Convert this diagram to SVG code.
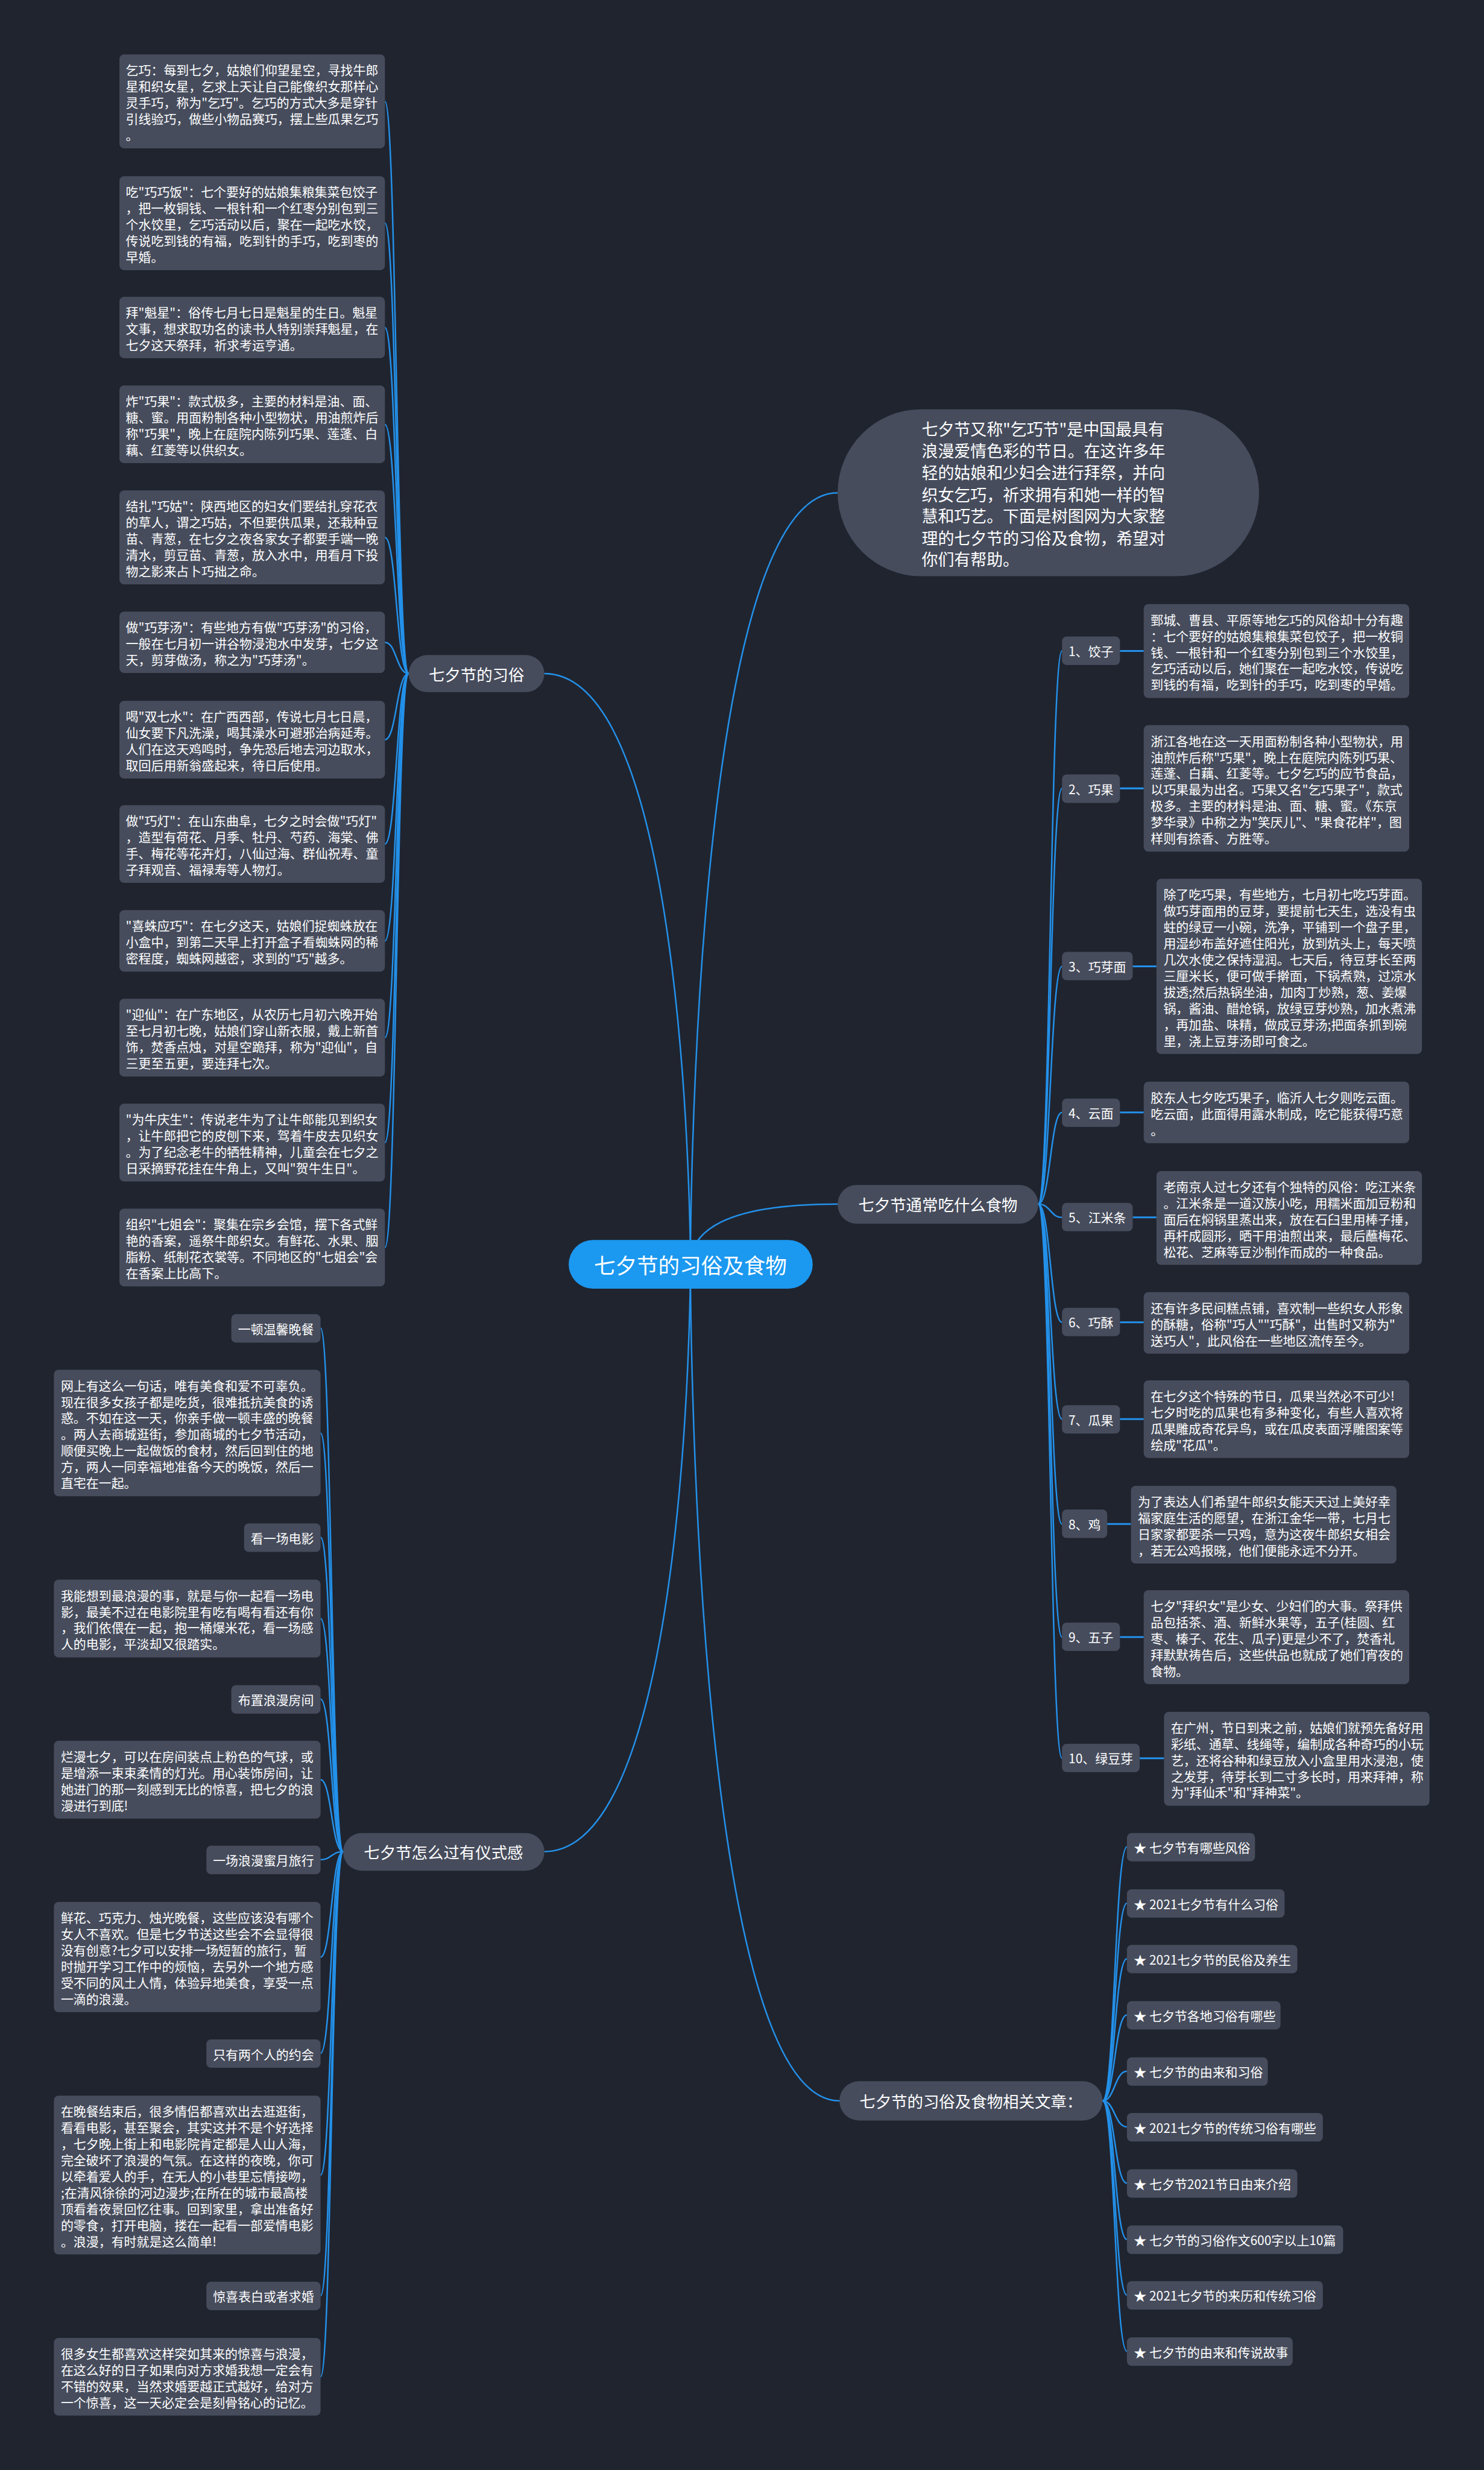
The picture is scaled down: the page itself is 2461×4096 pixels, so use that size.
<svg xmlns="http://www.w3.org/2000/svg" width="2461" height="4096" viewBox="0 0 2461 4096">
<style>
text{font-family:"Noto Sans CJK SC","Noto Sans",sans-serif;fill:#ffffff;dominant-baseline:central}
.b{font-size:21.8px}
.m{text-anchor:middle}
.br{font-size:27.5px}
.nd{fill:#464c5c}
.ln{fill:none;stroke:#2391ea;stroke-width:2.6}
.lk{fill:none;stroke:#2391ea;stroke-width:3.2}
</style>
<rect x="0" y="0" width="2461" height="4096" fill="#20242f"/>
<g transform="scale(0.961328)">
<g id="connectors">
<path class="ln" d="M939 1162 C1191 1162 1191 2181 1191 2181"/>
<path class="ln" d="M939 3194 C1191 3194 1191 2181 1191 2181"/>
<path class="ln" d="M1445 850 C1191 850 1191 2181 1191 2181"/>
<path class="ln" d="M1445 2077 C1220 2077 1191 2140 1191 2181"/>
<path class="ln" d="M1448 3624 C1191 3624 1191 2181 1191 2181"/>
<path class="ln" d="M705 1162 C684 1162 684 175 664 175"/>
<path class="ln" d="M705 1162 C684 1162 684 385 664 385"/>
<path class="ln" d="M705 1162 C684 1162 684 565 664 565"/>
<path class="ln" d="M705 1162 C684 1162 684 732 664 732"/>
<path class="ln" d="M705 1162 C684 1162 684 927 664 927"/>
<path class="ln" d="M705 1162 C684 1162 684 1108 664 1108"/>
<path class="ln" d="M705 1162 C684 1162 684 1276 664 1276"/>
<path class="ln" d="M705 1162 C684 1162 684 1456 664 1456"/>
<path class="ln" d="M705 1162 C684 1162 684 1623 664 1623"/>
<path class="ln" d="M705 1162 C684 1162 684 1790 664 1790"/>
<path class="ln" d="M705 1162 C684 1162 684 1971 664 1971"/>
<path class="ln" d="M705 1162 C684 1162 684 2152 664 2152"/>
<path class="ln" d="M592 3194 C572 3194 572 2291 553 2291"/>
<path class="ln" d="M592 3194 C572 3194 572 2472 553 2472"/>
<path class="ln" d="M592 3194 C572 3194 572 2652 553 2652"/>
<path class="ln" d="M592 3194 C572 3194 572 2792 553 2792"/>
<path class="ln" d="M592 3194 C572 3194 572 2931 553 2931"/>
<path class="ln" d="M592 3194 C572 3194 572 3070 553 3070"/>
<path class="ln" d="M592 3194 C572 3194 572 3208 553 3208"/>
<path class="ln" d="M592 3194 C572 3194 572 3376 553 3376"/>
<path class="ln" d="M592 3194 C572 3194 572 3542 553 3542"/>
<path class="ln" d="M592 3194 C572 3194 572 3752 553 3752"/>
<path class="ln" d="M592 3194 C572 3194 572 3960 553 3960"/>
<path class="ln" d="M592 3194 C572 3194 572 4100 553 4100"/>
<path class="ln" d="M1791 2077 C1812 2077 1812 1123 1832 1123"/>
<path class="ln" d="M1791 2077 C1812 2077 1812 1360 1832 1360"/>
<path class="ln" d="M1791 2077 C1812 2077 1812 1667 1832 1667"/>
<path class="ln" d="M1791 2077 C1812 2077 1812 1919 1832 1919"/>
<path class="ln" d="M1791 2077 C1812 2077 1812 2100 1832 2100"/>
<path class="ln" d="M1791 2077 C1812 2077 1812 2281 1832 2281"/>
<path class="ln" d="M1791 2077 C1812 2077 1812 2448 1832 2448"/>
<path class="ln" d="M1791 2077 C1812 2077 1812 2629 1832 2629"/>
<path class="ln" d="M1791 2077 C1812 2077 1812 2824 1832 2824"/>
<path class="ln" d="M1791 2077 C1812 2077 1812 3033 1832 3033"/>
<path class="lk" d="M1932 1123 H1973"/>
<path class="lk" d="M1932 1360 H1973"/>
<path class="lk" d="M1954 1667 H1995"/>
<path class="lk" d="M1932 1919 H1973"/>
<path class="lk" d="M1954 2100 H1995"/>
<path class="lk" d="M1932 2281 H1973"/>
<path class="lk" d="M1932 2448 H1973"/>
<path class="lk" d="M1910 2629 H1951"/>
<path class="lk" d="M1932 2824 H1973"/>
<path class="lk" d="M1966 3033 H2008"/>
<path class="ln" d="M1902 3624 C1923 3624 1923 3186 1944 3186"/>
<path class="ln" d="M1902 3624 C1923 3624 1923 3283 1944 3283"/>
<path class="ln" d="M1902 3624 C1923 3624 1923 3379 1944 3379"/>
<path class="ln" d="M1902 3624 C1923 3624 1923 3476 1944 3476"/>
<path class="ln" d="M1902 3624 C1923 3624 1923 3573 1944 3573"/>
<path class="ln" d="M1902 3624 C1923 3624 1923 3669 1944 3669"/>
<path class="ln" d="M1902 3624 C1923 3624 1923 3766 1944 3766"/>
<path class="ln" d="M1902 3624 C1923 3624 1923 3863 1944 3863"/>
<path class="ln" d="M1902 3624 C1923 3624 1923 3959 1944 3959"/>
<path class="ln" d="M1902 3624 C1923 3624 1923 4056 1944 4056"/>
</g>

<g id="center"><rect x="981" y="2139" width="421" height="84" rx="42" fill="#1b98f0"/><text class="m" x="1191" y="2181" style="font-size:37px">七夕节的习俗及食物</text></g>

<g id="intro"><rect class="nd" x="1445" y="706" width="727" height="288" rx="144"/>
<text style="font-size:28px" x="1590" y="739">七夕节又称"乞巧节"是中国最具有</text>
<text style="font-size:28px" x="1590" y="777">浪漫爱情色彩的节日。在这许多年</text>
<text style="font-size:28px" x="1590" y="814">轻的姑娘和少妇会进行拜祭，并向</text>
<text style="font-size:28px" x="1590" y="852">织女乞巧，祈求拥有和她一样的智</text>
<text style="font-size:28px" x="1590" y="889">慧和巧艺。下面是树图网为大家整</text>
<text style="font-size:28px" x="1590" y="927">理的七夕节的习俗及食物，希望对</text>
<text style="font-size:28px" x="1590" y="964">你们有帮助。</text></g>

<g id="branch-customs"><rect class="nd" x="705" y="1130" width="234" height="64" rx="32"/><text class="br m" x="822" y="1162">七夕节的习俗</text></g>
<g id="branch-food"><rect class="nd" x="1445" y="2044" width="346" height="67" rx="33"/><text class="br m" x="1618" y="2077">七夕节通常吃什么食物</text></g>
<g id="branch-ritual"><rect class="nd" x="592" y="3162" width="347" height="65" rx="32"/><text class="br m" x="765" y="3194">七夕节怎么过有仪式感</text></g>
<g id="branch-articles"><rect class="nd" x="1448" y="3590" width="454" height="68" rx="34"/><text class="br m" x="1675" y="3624">七夕节的习俗及食物相关文章：</text></g>

<g id="c1"><rect class="nd" x="206" y="94" width="458" height="162" rx="8"/>
<text class="b" x="217" y="120">乞巧：每到七夕，姑娘们仰望星空，寻找牛郎</text>
<text class="b" x="217" y="148">星和织女星，乞求上天让自己能像织女那样心</text>
<text class="b" x="217" y="176">灵手巧，称为"乞巧"。乞巧的方式大多是穿针</text>
<text class="b" x="217" y="204">引线验巧，做些小物品赛巧，摆上些瓜果乞巧</text>
<text class="b" x="217" y="232">。</text></g>
<g id="c2"><rect class="nd" x="206" y="304" width="458" height="162" rx="8"/>
<text class="b" x="217" y="330">吃"巧巧饭"：七个要好的姑娘集粮集菜包饺子</text>
<text class="b" x="217" y="358">，把一枚铜钱、一根针和一个红枣分别包到三</text>
<text class="b" x="217" y="386">个水饺里，乞巧活动以后，聚在一起吃水饺，</text>
<text class="b" x="217" y="414">传说吃到钱的有福，吃到针的手巧，吃到枣的</text>
<text class="b" x="217" y="442">早婚。</text></g>
<g id="c3"><rect class="nd" x="206" y="512" width="458" height="106" rx="8"/>
<text class="b" x="217" y="538">拜"魁星"：俗传七月七日是魁星的生日。魁星</text>
<text class="b" x="217" y="566">文事，想求取功名的读书人特别崇拜魁星，在</text>
<text class="b" x="217" y="594">七夕这天祭拜，祈求考运亨通。</text></g>
<g id="c4"><rect class="nd" x="206" y="665" width="458" height="134" rx="8"/>
<text class="b" x="217" y="691">炸"巧果"：款式极多，主要的材料是油、面、</text>
<text class="b" x="217" y="719">糖、蜜。用面粉制各种小型物状，用油煎炸后</text>
<text class="b" x="217" y="747">称"巧果"，晚上在庭院内陈列巧果、莲蓬、白</text>
<text class="b" x="217" y="775">藕、红菱等以供织女。</text></g>
<g id="c5"><rect class="nd" x="206" y="846" width="458" height="162" rx="8"/>
<text class="b" x="217" y="872">结扎"巧姑"：陕西地区的妇女们要结扎穿花衣</text>
<text class="b" x="217" y="900">的草人，谓之巧姑，不但要供瓜果，还栽种豆</text>
<text class="b" x="217" y="928">苗、青葱，在七夕之夜各家女子都要手端一晚</text>
<text class="b" x="217" y="956">清水，剪豆苗、青葱，放入水中，用看月下投</text>
<text class="b" x="217" y="984">物之影来占卜巧拙之命。</text></g>
<g id="c6"><rect class="nd" x="206" y="1055" width="458" height="106" rx="8"/>
<text class="b" x="217" y="1081">做"巧芽汤"：有些地方有做"巧芽汤"的习俗，</text>
<text class="b" x="217" y="1109">一般在七月初一讲谷物浸泡水中发芽，七夕这</text>
<text class="b" x="217" y="1137">天，剪芽做汤，称之为"巧芽汤"。</text></g>
<g id="c7"><rect class="nd" x="206" y="1209" width="458" height="134" rx="8"/>
<text class="b" x="217" y="1235">喝"双七水"：在广西西部，传说七月七日晨，</text>
<text class="b" x="217" y="1263">仙女要下凡洗澡，喝其澡水可避邪治病延寿。</text>
<text class="b" x="217" y="1291">人们在这天鸡鸣时，争先恐后地去河边取水，</text>
<text class="b" x="217" y="1319">取回后用新翁盛起来，待日后使用。</text></g>
<g id="c8"><rect class="nd" x="206" y="1389" width="458" height="134" rx="8"/>
<text class="b" x="217" y="1415">做"巧灯"：在山东曲阜，七夕之时会做"巧灯"</text>
<text class="b" x="217" y="1443">，造型有荷花、月季、牡丹、芍药、海棠、佛</text>
<text class="b" x="217" y="1471">手、梅花等花卉灯，八仙过海、群仙祝寿、童</text>
<text class="b" x="217" y="1499">子拜观音、福禄寿等人物灯。</text></g>
<g id="c9"><rect class="nd" x="206" y="1570" width="458" height="106" rx="8"/>
<text class="b" x="217" y="1596">"喜蛛应巧"：在七夕这天，姑娘们捉蜘蛛放在</text>
<text class="b" x="217" y="1624">小盒中，到第二天早上打开盒子看蜘蛛网的稀</text>
<text class="b" x="217" y="1652">密程度，蜘蛛网越密，求到的"巧"越多。</text></g>
<g id="c10"><rect class="nd" x="206" y="1723" width="458" height="134" rx="8"/>
<text class="b" x="217" y="1749">"迎仙"：在广东地区，从农历七月初六晚开始</text>
<text class="b" x="217" y="1777">至七月初七晚，姑娘们穿山新衣服，戴上新首</text>
<text class="b" x="217" y="1805">饰，焚香点烛，对星空跪拜，称为"迎仙"，自</text>
<text class="b" x="217" y="1833">三更至五更，要连拜七次。</text></g>
<g id="c11"><rect class="nd" x="206" y="1904" width="458" height="134" rx="8"/>
<text class="b" x="217" y="1930">"为牛庆生"：传说老牛为了让牛郎能见到织女</text>
<text class="b" x="217" y="1958">，让牛郎把它的皮刨下来，驾着牛皮去见织女</text>
<text class="b" x="217" y="1986">。为了纪念老牛的牺牲精神，儿童会在七夕之</text>
<text class="b" x="217" y="2014">日采摘野花挂在牛角上，又叫"贺牛生日"。</text></g>
<g id="c12"><rect class="nd" x="206" y="2085" width="458" height="134" rx="8"/>
<text class="b" x="217" y="2111">组织"七姐会"：聚集在宗乡会馆，摆下各式鲜</text>
<text class="b" x="217" y="2139">艳的香案，遥祭牛郎织女。有鲜花、水果、胭</text>
<text class="b" x="217" y="2167">脂粉、纸制花衣裳等。不同地区的"七姐会"会</text>
<text class="b" x="217" y="2195">在香案上比高下。</text></g>

<g id="r1"><rect class="nd" x="399" y="2267" width="154" height="49" rx="8"/><text class="b m" x="476" y="2291.5">一顿温馨晚餐</text></g>
<g id="r1t"><rect class="nd" x="93" y="2363" width="460" height="218" rx="8"/>
<text class="b" x="105" y="2389">网上有这么一句话，唯有美食和爱不可辜负。</text>
<text class="b" x="105" y="2417">现在很多女孩子都是吃货，很难抵抗美食的诱</text>
<text class="b" x="105" y="2445">惑。不如在这一天，你亲手做一顿丰盛的晚餐</text>
<text class="b" x="105" y="2473">。两人去商城逛街，参加商城的七夕节活动，</text>
<text class="b" x="105" y="2501">顺便买晚上一起做饭的食材，然后回到住的地</text>
<text class="b" x="105" y="2529">方，两人一同幸福地准备今天的晚饭，然后一</text>
<text class="b" x="105" y="2557">直宅在一起。</text></g>
<g id="r2"><rect class="nd" x="421" y="2628" width="132" height="49" rx="8"/><text class="b m" x="487" y="2652.5">看一场电影</text></g>
<g id="r2t"><rect class="nd" x="93" y="2725" width="460" height="134" rx="8"/>
<text class="b" x="105" y="2751">我能想到最浪漫的事，就是与你一起看一场电</text>
<text class="b" x="105" y="2779">影，最美不过在电影院里有吃有喝有看还有你</text>
<text class="b" x="105" y="2807">，我们依偎在一起，抱一桶爆米花，看一场感</text>
<text class="b" x="105" y="2835">人的电影，平淡却又很踏实。</text></g>
<g id="r3"><rect class="nd" x="399" y="2907" width="154" height="49" rx="8"/><text class="b m" x="476" y="2931.5">布置浪漫房间</text></g>
<g id="r3t"><rect class="nd" x="93" y="3003" width="460" height="134" rx="8"/>
<text class="b" x="105" y="3029">烂漫七夕，可以在房间装点上粉色的气球，或</text>
<text class="b" x="105" y="3057">是增添一束束柔情的灯光。用心装饰房间，让</text>
<text class="b" x="105" y="3085">她进门的那一刻感到无比的惊喜，把七夕的浪</text>
<text class="b" x="105" y="3113">漫进行到底!</text></g>
<g id="r4"><rect class="nd" x="356" y="3184" width="197" height="49" rx="8"/><text class="b m" x="454.5" y="3208.5">一场浪漫蜜月旅行</text></g>
<g id="r4t"><rect class="nd" x="93" y="3281" width="460" height="190" rx="8"/>
<text class="b" x="105" y="3307">鲜花、巧克力、烛光晚餐，这些应该没有哪个</text>
<text class="b" x="105" y="3335">女人不喜欢。但是七夕节送这些会不会显得很</text>
<text class="b" x="105" y="3363">没有创意?七夕可以安排一场短暂的旅行，暂</text>
<text class="b" x="105" y="3391">时抛开学习工作中的烦恼，去另外一个地方感</text>
<text class="b" x="105" y="3419">受不同的风土人情，体验异地美食，享受一点</text>
<text class="b" x="105" y="3447">一滴的浪漫。</text></g>
<g id="r5"><rect class="nd" x="356" y="3518" width="197" height="49" rx="8"/><text class="b m" x="454.5" y="3542.5">只有两个人的约会</text></g>
<g id="r5t"><rect class="nd" x="93" y="3615" width="460" height="274" rx="8"/>
<text class="b" x="105" y="3641">在晚餐结束后，很多情侣都喜欢出去逛逛街，</text>
<text class="b" x="105" y="3669">看看电影，甚至聚会，其实这并不是个好选择</text>
<text class="b" x="105" y="3697">，七夕晚上街上和电影院肯定都是人山人海，</text>
<text class="b" x="105" y="3725">完全破坏了浪漫的气氛。在这样的夜晚，你可</text>
<text class="b" x="105" y="3753">以牵着爱人的手，在无人的小巷里忘情接吻，</text>
<text class="b" x="105" y="3781">;在清风徐徐的河边漫步;在所在的城市最高楼</text>
<text class="b" x="105" y="3809">顶看着夜景回忆往事。回到家里，拿出准备好</text>
<text class="b" x="105" y="3837">的零食，打开电脑，搂在一起看一部爱情电影</text>
<text class="b" x="105" y="3865">。浪漫，有时就是这么简单!</text></g>
<g id="r6"><rect class="nd" x="356" y="3936" width="197" height="49" rx="8"/><text class="b m" x="454.5" y="3960.5">惊喜表白或者求婚</text></g>
<g id="r6t"><rect class="nd" x="93" y="4033" width="460" height="134" rx="8"/>
<text class="b" x="105" y="4059">很多女生都喜欢这样突如其来的惊喜与浪漫，</text>
<text class="b" x="105" y="4087">在这么好的日子如果向对方求婚我想一定会有</text>
<text class="b" x="105" y="4115">不错的效果，当然求婚要越正式越好，给对方</text>
<text class="b" x="105" y="4143">一个惊喜，这一天必定会是刻骨铭心的记忆。</text></g>

<g id="f1"><rect class="nd" x="1832" y="1098" width="100" height="49" rx="8"/><text class="b m" x="1882" y="1122.5">1、饺子</text></g>
<g id="f1t"><rect class="nd" x="1973" y="1042" width="458" height="162" rx="8"/>
<text class="b" x="1985" y="1068">鄄城、曹县、平原等地乞巧的风俗却十分有趣</text>
<text class="b" x="1985" y="1096">：七个要好的姑娘集粮集菜包饺子，把一枚铜</text>
<text class="b" x="1985" y="1124">钱、一根针和一个红枣分别包到三个水饺里，</text>
<text class="b" x="1985" y="1152">乞巧活动以后，她们聚在一起吃水饺，传说吃</text>
<text class="b" x="1985" y="1180">到钱的有福，吃到针的手巧，吃到枣的早婚。</text></g>
<g id="f2"><rect class="nd" x="1832" y="1336" width="100" height="49" rx="8"/><text class="b m" x="1882" y="1360.5">2、巧果</text></g>
<g id="f2t"><rect class="nd" x="1973" y="1251" width="458" height="218" rx="8"/>
<text class="b" x="1985" y="1277">浙江各地在这一天用面粉制各种小型物状，用</text>
<text class="b" x="1985" y="1305">油煎炸后称"巧果"，晚上在庭院内陈列巧果、</text>
<text class="b" x="1985" y="1333">莲蓬、白藕、红菱等。七夕乞巧的应节食品，</text>
<text class="b" x="1985" y="1361">以巧果最为出名。巧果又名"乞巧果子"，款式</text>
<text class="b" x="1985" y="1389">极多。主要的材料是油、面、糖、蜜。《东京</text>
<text class="b" x="1985" y="1417">梦华录》中称之为"笑厌儿"、"果食花样"，图</text>
<text class="b" x="1985" y="1445">样则有捺香、方胜等。</text></g>
<g id="f3"><rect class="nd" x="1832" y="1642" width="122" height="49" rx="8"/><text class="b m" x="1893" y="1666.5">3、巧芽面</text></g>
<g id="f3t"><rect class="nd" x="1995" y="1516" width="458" height="302" rx="8"/>
<text class="b" x="2007" y="1542">除了吃巧果，有些地方，七月初七吃巧芽面。</text>
<text class="b" x="2007" y="1570">做巧芽面用的豆芽，要提前七天生，选没有虫</text>
<text class="b" x="2007" y="1598">蛀的绿豆一小碗，洗净，平铺到一个盘子里，</text>
<text class="b" x="2007" y="1626">用湿纱布盖好遮住阳光，放到炕头上，每天喷</text>
<text class="b" x="2007" y="1654">几次水使之保持湿润。七天后，待豆芽长至两</text>
<text class="b" x="2007" y="1682">三厘米长，便可做手擀面，下锅煮熟，过凉水</text>
<text class="b" x="2007" y="1710">拔透;然后热锅坐油，加肉丁炒熟，葱、姜爆</text>
<text class="b" x="2007" y="1738">锅，酱油、醋炝锅，放绿豆芽炒熟，加水煮沸</text>
<text class="b" x="2007" y="1766">，再加盐、味精，做成豆芽汤;把面条抓到碗</text>
<text class="b" x="2007" y="1794">里，浇上豆芽汤即可食之。</text></g>
<g id="f4"><rect class="nd" x="1832" y="1895" width="100" height="49" rx="8"/><text class="b m" x="1882" y="1919.5">4、云面</text></g>
<g id="f4t"><rect class="nd" x="1973" y="1866" width="458" height="106" rx="8"/>
<text class="b" x="1985" y="1892">胶东人七夕吃巧果子，临沂人七夕则吃云面。</text>
<text class="b" x="1985" y="1920">吃云面，此面得用露水制成，吃它能获得巧意</text>
<text class="b" x="1985" y="1948">。</text></g>
<g id="f5"><rect class="nd" x="1832" y="2075" width="122" height="49" rx="8"/><text class="b m" x="1893" y="2099.5">5、江米条</text></g>
<g id="f5t"><rect class="nd" x="1995" y="2020" width="458" height="162" rx="8"/>
<text class="b" x="2007" y="2046">老南京人过七夕还有个独特的风俗：吃江米条</text>
<text class="b" x="2007" y="2074">。江米条是一道汉族小吃，用糯米面加豆粉和</text>
<text class="b" x="2007" y="2102">面后在焖锅里蒸出来，放在石臼里用棒子捶，</text>
<text class="b" x="2007" y="2130">再杆成圆形，晒干用油煎出来，最后蘸梅花、</text>
<text class="b" x="2007" y="2158">松花、芝麻等豆沙制作而成的一种食品。</text></g>
<g id="f6"><rect class="nd" x="1832" y="2256" width="100" height="49" rx="8"/><text class="b m" x="1882" y="2280.5">6、巧酥</text></g>
<g id="f6t"><rect class="nd" x="1973" y="2229" width="458" height="106" rx="8"/>
<text class="b" x="1985" y="2255">还有许多民间糕点铺，喜欢制一些织女人形象</text>
<text class="b" x="1985" y="2283">的酥糖，俗称"巧人""巧酥"，出售时又称为"</text>
<text class="b" x="1985" y="2311">送巧人"，此风俗在一些地区流传至今。</text></g>
<g id="f7"><rect class="nd" x="1832" y="2424" width="100" height="49" rx="8"/><text class="b m" x="1882" y="2448.5">7、瓜果</text></g>
<g id="f7t"><rect class="nd" x="1973" y="2381" width="458" height="134" rx="8"/>
<text class="b" x="1985" y="2407">在七夕这个特殊的节日，瓜果当然必不可少!</text>
<text class="b" x="1985" y="2435">七夕时吃的瓜果也有多种变化，有些人喜欢将</text>
<text class="b" x="1985" y="2463">瓜果雕成奇花异鸟，或在瓜皮表面浮雕图案等</text>
<text class="b" x="1985" y="2491">绘成"花瓜"。</text></g>
<g id="f8"><rect class="nd" x="1832" y="2604" width="78" height="49" rx="8"/><text class="b m" x="1871" y="2628.5">8、鸡</text></g>
<g id="f8t"><rect class="nd" x="1951" y="2563" width="458" height="134" rx="8"/>
<text class="b" x="1963" y="2589">为了表达人们希望牛郎织女能天天过上美好幸</text>
<text class="b" x="1963" y="2617">福家庭生活的愿望，在浙江金华一带，七月七</text>
<text class="b" x="1963" y="2645">日家家都要杀一只鸡，意为这夜牛郎织女相会</text>
<text class="b" x="1963" y="2673">，若无公鸡报晓，他们便能永远不分开。</text></g>
<g id="f9"><rect class="nd" x="1832" y="2799" width="100" height="49" rx="8"/><text class="b m" x="1882" y="2823.5">9、五子</text></g>
<g id="f9t"><rect class="nd" x="1973" y="2743" width="458" height="162" rx="8"/>
<text class="b" x="1985" y="2769">七夕"拜织女"是少女、少妇们的大事。祭拜供</text>
<text class="b" x="1985" y="2797">品包括茶、酒、新鲜水果等，五子(桂圆、红</text>
<text class="b" x="1985" y="2825">枣、榛子、花生、瓜子)更是少不了，焚香礼</text>
<text class="b" x="1985" y="2853">拜默默祷告后，这些供品也就成了她们宵夜的</text>
<text class="b" x="1985" y="2881">食物。</text></g>
<g id="f10"><rect class="nd" x="1832" y="3008" width="134" height="49" rx="8"/><text class="b m" x="1899" y="3032.5">10、绿豆芽</text></g>
<g id="f10t"><rect class="nd" x="2008" y="2953" width="458" height="162" rx="8"/>
<text class="b" x="2020" y="2979">在广州，节日到来之前，姑娘们就预先备好用</text>
<text class="b" x="2020" y="3007">彩纸、通草、线绳等，编制成各种奇巧的小玩</text>
<text class="b" x="2020" y="3035">艺，还将谷种和绿豆放入小盒里用水浸泡，使</text>
<text class="b" x="2020" y="3063">之发芽，待芽长到二寸多长时，用来拜神，称</text>
<text class="b" x="2020" y="3091">为"拜仙禾"和"拜神菜"。</text></g>

<g id="a1"><rect class="nd" x="1944" y="3162" width="221" height="49" rx="8"/><text class="b" x="1956" y="3186.5">★ 七夕节有哪些风俗</text></g>
<g id="a2"><rect class="nd" x="1944" y="3259" width="272" height="49" rx="8"/><text class="b" x="1956" y="3283.5">★ 2021七夕节有什么习俗</text></g>
<g id="a3"><rect class="nd" x="1944" y="3355" width="294" height="49" rx="8"/><text class="b" x="1956" y="3379.5">★ 2021七夕节的民俗及养生</text></g>
<g id="a4"><rect class="nd" x="1944" y="3452" width="265" height="49" rx="8"/><text class="b" x="1956" y="3476.5">★ 七夕节各地习俗有哪些</text></g>
<g id="a5"><rect class="nd" x="1944" y="3549" width="243" height="49" rx="8"/><text class="b" x="1956" y="3573.5">★ 七夕节的由来和习俗</text></g>
<g id="a6"><rect class="nd" x="1944" y="3645" width="338" height="49" rx="8"/><text class="b" x="1956" y="3669.5">★ 2021七夕节的传统习俗有哪些</text></g>
<g id="a7"><rect class="nd" x="1944" y="3742" width="294" height="49" rx="8"/><text class="b" x="1956" y="3766.5">★ 七夕节2021节日由来介绍</text></g>
<g id="a8"><rect class="nd" x="1944" y="3839" width="373" height="49" rx="8"/><text class="b" x="1956" y="3863.5">★ 七夕节的习俗作文600字以上10篇</text></g>
<g id="a9"><rect class="nd" x="1944" y="3935" width="338" height="49" rx="8"/><text class="b" x="1956" y="3959.5">★ 2021七夕节的来历和传统习俗</text></g>
<g id="a10"><rect class="nd" x="1944" y="4032" width="286" height="49" rx="8"/><text class="b" x="1956" y="4056.5">★ 七夕节的由来和传说故事</text></g>
</g>
</svg>
